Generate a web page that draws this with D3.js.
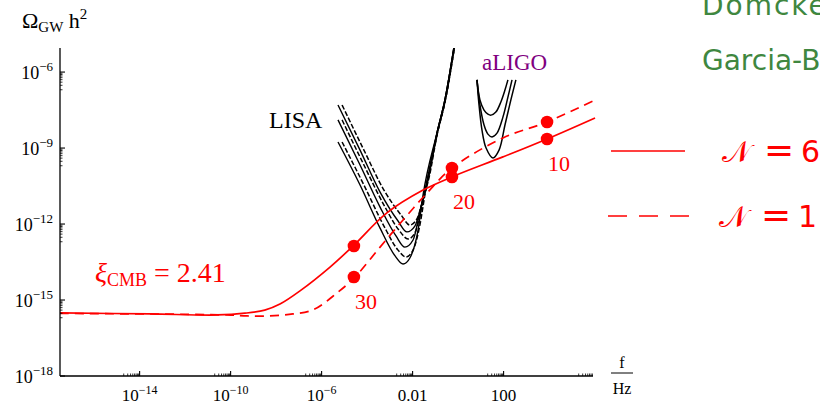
<!DOCTYPE html>
<html>
<head>
<meta charset="utf-8">
<script src="https://cdn.jsdelivr.net/npm/d3@7"></script>
<style>
  body { margin: 0; background: #fff; }
  svg { display: block; }
</style>
</head>
<body>
<div id="chart"></div>
<script>

// red spectra, xi_CMB = 2.41
var solidN6 = [[-17.5,-15.51],[-13.54,-15.55],[-10.6,-15.59],[-9.37,-15.52],[-8.5,-15.40],[-7.83,-15.16],[-6.95,-14.64],
  [-5.63,-13.70],[-4.62,-12.87],[-3.13,-11.56],[-1.54,-10.66],[-0.27,-10.14],[1.97,-9.35],[3.91,-8.64],[6.02,-7.81]];
var dashedN1 = [[-17.5,-15.53],[-10.16,-15.59],[-9.28,-15.63],[-8.27,-15.63],[-7.26,-15.55],[-6.38,-15.39],
  [-5.32,-14.72],[-4.53,-14.09],[-3.43,-12.91],[-2.42,-11.84],[-1.37,-10.78],[-0.27,-9.79],[1.97,-8.60],[3.91,-7.97],[6.02,-7.10]];

// e-fold markers (N = 30, 20, 10)
var markerLabels = ["30", "20", "10"];
var markerF = [-4.58, -0.27, 3.91];
var markerSolid = [-12.87, -10.14, -8.64];
var markerDashed = [-14.09, -9.79, -7.97];

// LISA sensitivity curves (solid + dashed companions)
var lisaSolid = [
  [[-5.28,-8.76],[-4.31,-10.46],[-3.43,-12.16],[-2.77,-13.26],[-2.42,-13.58],[-2.12,-13.34],[-1.76,-12.24],[-1.54,-10.85],[-0.93,-8.41],[-0.58,-7.10],[-0.16,-4.9]],
  [[-5.28,-7.89],[-4.31,-9.67],[-3.43,-11.33],[-2.73,-12.47],[-2.34,-12.91],[-1.98,-12.63],[-1.68,-11.53],[-1.41,-10.46],[-0.93,-8.41],[-0.58,-7.10],[-0.16,-4.9]],
  [[-5.28,-7.30],[-4.31,-9.08],[-3.43,-10.74],[-2.64,-11.88],[-2.25,-12.31],[-1.90,-12.08],[-1.59,-11.21],[-1.32,-10.26],[-0.93,-8.41],[-0.58,-7.10],[-0.16,-4.9]]
];
var lisaDashed = [
  [[-5.10,-8.76],[-4.14,-10.46],[-3.26,-12.08],[-2.64,-13.03],[-2.29,-13.30],[-1.98,-13.03],[-1.68,-12.04],[-1.46,-10.85],[-0.91,-8.41],[-0.56,-7.10],[-0.14,-4.9]],
  [[-5.10,-7.89],[-4.14,-9.67],[-3.26,-11.25],[-2.60,-12.24],[-2.20,-12.59],[-1.90,-12.35],[-1.63,-11.45],[-1.37,-10.38],[-0.91,-8.41],[-0.56,-7.10],[-0.14,-4.9]],
  [[-5.10,-7.30],[-4.14,-9.08],[-3.26,-10.66],[-2.51,-11.64],[-2.12,-12.04],[-1.81,-11.80],[-1.54,-11.01],[-1.28,-10.18],[-0.91,-8.41],[-0.56,-7.10],[-0.14,-4.9]]
];

// aLIGO sensitivity curves
var aligo = [
  [[0.83,-6.31],[0.92,-7.30],[1.05,-8.29],[1.23,-9.00],[1.53,-9.39],[1.80,-9.08],[2.06,-8.09],[2.32,-7.10],[2.54,-6.31]],
  [[0.83,-6.31],[0.96,-7.30],[1.14,-8.09],[1.31,-8.45],[1.49,-8.56],[1.71,-8.41],[1.97,-7.78],[2.19,-6.99],[2.37,-6.31]],
  [[0.83,-6.31],[0.96,-7.10],[1.14,-7.50],[1.31,-7.66],[1.45,-7.70],[1.66,-7.58],[1.88,-7.18],[2.06,-6.71],[2.19,-6.31]]
];

// axes
var xMajor = [-18, -14, -10, -6, -2, 2, 6];
var xTickBase = ["", "10", "10", "10", "0.01", "100", ""];
var xTickExp = ["", "\u221214", "\u221210", "\u22126", "", "", ""];
var yMajor = [-18, -15, -12, -9, -6, -3];
var yTickExp = ["\u221218", "\u221215", "\u221212", "\u22129", "\u22126", ""];

var legendValues = ["6", "1"];
var refLines = ["Domcke, Pieroni, Bin\u00e9truy", "Garcia-Bellido, Peloso, Unal"];

var width = 820, height = 404,
    margin = {top: 48, right: 227, bottom: 28, left: 60};

var svg = d3.select("#chart").append("svg")
    .attr("width", width)
    .attr("height", height);

var serif = "'Liberation Serif', 'DejaVu Serif', serif";
var red = "#ff0000";

var x = d3.scaleLog()
    .domain([Math.pow(10, -17.5), Math.pow(10, 5.93)])
    .range([margin.left, width - margin.right]);
var y = d3.scaleLog()
    .domain([1e-18, Math.pow(10, -5.05)])
    .range([height - margin.bottom, margin.top]);

var px = function(d) { return x(Math.pow(10, d[0])); },
    py = function(d) { return y(Math.pow(10, d[1])); };

var line = d3.line().x(px).y(py).curve(d3.curveMonotoneX);
var smooth = d3.line().x(px).y(py).curve(d3.curveCatmullRom.alpha(0.5));

svg.append("clipPath").attr("id", "plotclip")
  .append("rect")
    .attr("x", margin.left).attr("y", margin.top)
    .attr("width", width - margin.right - margin.left + 4)
    .attr("height", height - margin.bottom - margin.top);

var plot = svg.append("g").attr("clip-path", "url(#plotclip)");

// LISA
plot.selectAll("path.lisa-s").data(lisaSolid).enter().append("path")
    .attr("class", "lisa-s")
    .attr("d", line).attr("fill", "none")
    .attr("stroke", "#000").attr("stroke-width", 1.4);
plot.selectAll("path.lisa-d").data(lisaDashed).enter().append("path")
    .attr("class", "lisa-d")
    .attr("d", line).attr("fill", "none")
    .attr("stroke", "#000").attr("stroke-width", 1.5)
    .attr("stroke-dasharray", "5,2");

// aLIGO
plot.selectAll("path.aligo").data(aligo).enter().append("path")
    .attr("class", "aligo")
    .attr("d", smooth)
    .attr("fill", "none").attr("stroke", "#000").attr("stroke-width", 1.5);

// red spectra
plot.append("path").datum(solidN6)
    .attr("d", smooth).attr("fill", "none")
    .attr("stroke", red).attr("stroke-width", 1.7);
plot.append("path").datum(dashedN1)
    .attr("d", smooth).attr("fill", "none")
    .attr("stroke", red).attr("stroke-width", 1.7)
    .attr("stroke-dasharray", "9,6");

// markers
var markers = markerF.map(function(f, i) {
  return {f: f, s: markerSolid[i], d: markerDashed[i], label: markerLabels[i]};
});
svg.selectAll("circle.ms").data(markers).enter().append("circle")
    .attr("cx", function(d) { return px([d.f]); })
    .attr("cy", function(d) { return py([0, d.s]); })
    .attr("r", 6.3).attr("fill", red);
svg.selectAll("circle.md").data(markers).enter().append("circle")
    .attr("cx", function(d) { return px([d.f]); })
    .attr("cy", function(d) { return py([0, d.d]); })
    .attr("r", 6.3).attr("fill", red);
svg.selectAll("text.mlab").data(markers).enter().append("text")
    .attr("x", function(d) { return px([d.f]) + 12; })
    .attr("y", function(d) { return Math.max(py([0, d.s]), py([0, d.d])) + 32; })
    .attr("text-anchor", "middle")
    .attr("font-family", serif).attr("font-size", 22)
    .attr("fill", red)
    .text(function(d) { return d.label; });

// axes lines
var x0 = margin.left, x1 = width - margin.right, yb = height - margin.bottom;
svg.append("line").attr("x1", x0).attr("x2", x1).attr("y1", yb).attr("y2", yb)
    .attr("stroke", "#000").attr("stroke-width", 1.3);
svg.append("line").attr("x1", x0).attr("x2", x0).attr("y1", yb).attr("y2", margin.top)
    .attr("stroke", "#000").attr("stroke-width", 1.3);

function inX(v) { return v >= x.domain()[0] * 0.999 && v <= x.domain()[1]; }
function inY(v) { return v >= y.domain()[0] * 0.999 && v <= y.domain()[1]; }

// minor ticks: 2..9 x 10^(k-1) under every major
var xMinor = [], yMinor = [];
xMajor.forEach(function(k) { d3.range(2, 10).forEach(function(j) { xMinor.push(j * Math.pow(10, k - 1)); }); });
yMajor.forEach(function(k) { d3.range(2, 10).forEach(function(j) { yMinor.push(j * Math.pow(10, k - 1)); }); });

svg.selectAll("line.xminor").data(xMinor.filter(inX)).enter().append("line")
    .attr("x1", x).attr("x2", x).attr("y1", yb).attr("y2", yb - 2.5)
    .attr("stroke", "#000").attr("stroke-width", 0.8);
svg.selectAll("line.yminor").data(yMinor.filter(inY)).enter().append("line")
    .attr("y1", y).attr("y2", y).attr("x1", x0).attr("x2", x0 + 2.5)
    .attr("stroke", "#000").attr("stroke-width", 0.8);

var xTicks = xMajor.map(function(k, i) { return {v: Math.pow(10, k), base: xTickBase[i], exp: xTickExp[i]}; })
    .filter(function(d) { return inX(d.v); });
var yTicks = yMajor.map(function(k, i) { return {v: Math.pow(10, k), exp: yTickExp[i]}; })
    .filter(function(d) { return inY(d.v); });

svg.selectAll("line.xmajor").data(xTicks).enter().append("line")
    .attr("x1", function(d) { return x(d.v); }).attr("x2", function(d) { return x(d.v); })
    .attr("y1", yb).attr("y2", yb - 5)
    .attr("stroke", "#000").attr("stroke-width", 1.1);
svg.selectAll("line.ymajor").data(yTicks).enter().append("line")
    .attr("y1", function(d) { return y(d.v); }).attr("y2", function(d) { return y(d.v); })
    .attr("x1", x0).attr("x2", x0 + 5)
    .attr("stroke", "#000").attr("stroke-width", 1.1);

var xl = svg.selectAll("text.xtick").data(xTicks).enter().append("text")
    .attr("x", function(d) { return x(d.v); })
    .attr("y", yb + 25)
    .attr("text-anchor", "middle")
    .attr("font-family", serif).attr("font-size", 17);
xl.append("tspan").text(function(d) { return d.base; });
xl.append("tspan").attr("dy", -7).attr("font-size", 12).text(function(d) { return d.exp; });

var yl = svg.selectAll("text.ytick").data(yTicks).enter().append("text")
    .attr("x", x0 - 7)
    .attr("y", function(d) { return y(d.v) + 7; })
    .attr("text-anchor", "end")
    .attr("font-family", serif).attr("font-size", 18);
yl.append("tspan").text("10");
yl.append("tspan").attr("dy", -8).attr("font-size", 13).text(function(d) { return d.exp; });

// axis titles
var yt = svg.append("text").attr("x", 22).attr("y", 28)
    .attr("font-family", serif).attr("font-size", 22);
yt.append("tspan").text("\u03A9");
yt.append("tspan").attr("dy", 4).attr("font-size", 15).text("GW");
yt.append("tspan").attr("dy", -4).text(" h");
yt.append("tspan").attr("dy", -9).attr("font-size", 15).text("2");

svg.append("text").attr("x", 622).attr("y", 368).attr("text-anchor", "middle")
    .attr("font-family", serif).attr("font-size", 16).text("f");
svg.append("line").attr("x1", 611).attr("x2", 633).attr("y1", 373).attr("y2", 373)
    .attr("stroke", "#000").attr("stroke-width", 1);
svg.append("text").attr("x", 622).attr("y", 394).attr("text-anchor", "middle")
    .attr("font-family", serif).attr("font-size", 16).text("Hz");

// annotations
svg.append("text").attr("x", 269).attr("y", 128)
    .attr("font-family", serif).attr("font-size", 24).text("LISA");
svg.append("text").attr("x", 482).attr("y", 70)
    .attr("font-family", serif).attr("font-size", 23).attr("fill", "#800080").text("aLIGO");

var xi = svg.append("text").attr("x", 95).attr("y", 282)
    .attr("font-family", serif).attr("font-size", 28).attr("fill", red);
xi.append("tspan").attr("font-style", "italic").text("\u03BE");
xi.append("tspan").attr("dy", 4).attr("font-size", 18).text("CMB");
xi.append("tspan").attr("dy", -4).text(" = 2.41");

// legend on the right
var legendDash = ["none", "19,12"];
var lg = svg.selectAll("g.legend").data(legendValues).enter().append("g")
    .attr("transform", function(d, i) { return "translate(" + (i ? -3 : 0) + "," + (151 + i * 65) + ")"; });
lg.append("line").attr("x1", 611).attr("x2", function(d, i) { return i ? 695 : 685; })
    .attr("y1", 0).attr("y2", 0)
    .attr("stroke", red).attr("stroke-width", 1.7)
    .attr("stroke-dasharray", function(d, i) { return legendDash[i]; });
lg.append("text").attr("x", 722).attr("y", 11)
    .attr("font-family", "'DejaVu Serif', serif").attr("font-size", 30)
    .attr("fill", red).text("\uD835\uDCA9");
lg.append("text").attr("x", 764).attr("y", 11)
    .attr("font-family", "'DejaVu Sans', sans-serif").attr("font-size", 36)
    .attr("fill", red).text("=");
lg.append("text").attr("x", 801).attr("y", 11)
    .attr("font-family", "'DejaVu Sans', sans-serif").attr("font-size", 30)
    .attr("fill", red).text(function(d) { return d; });

svg.selectAll("text.ref").data(refLines).enter().append("text")
    .attr("x", 702)
    .attr("y", function(d, i) { return 15 + i * 55; })
    .attr("font-family", "'DejaVu Sans', sans-serif").attr("font-size", 28)
    .attr("letter-spacing", function(d, i) { return i ? 0 : 2; })
    .attr("fill", "#3f873f")
    .text(function(d) { return d; });
</script>
</body>
</html>
